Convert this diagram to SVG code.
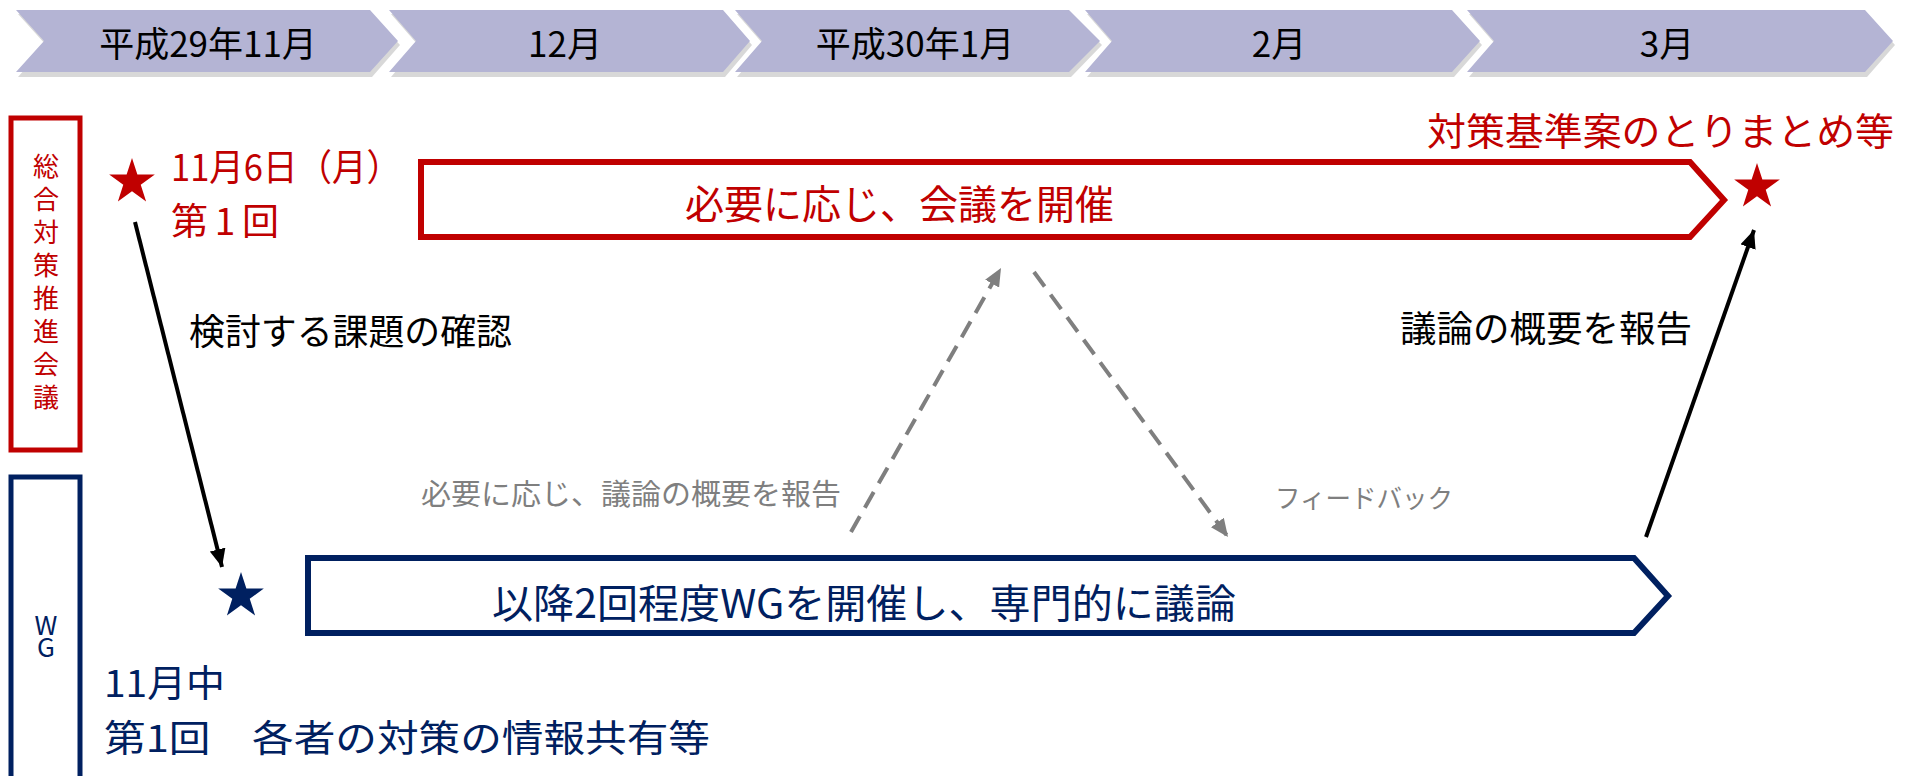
<svg xmlns="http://www.w3.org/2000/svg" width="1910" height="776" viewBox="0 0 1910 776">
<style>
text{font-family:"Noto Sans CJK JP","Noto Sans",sans-serif;dominant-baseline:central}
.hdr{fill:#b4b4d4}
.shd{fill:#d8d8d8}
.ht{font-size:35px;fill:#000;text-anchor:middle}
.red{fill:#c00000}
.navy{fill:#002060}
.blk{fill:#000}
.gry{fill:#7f7f7f}
.side{fill:none;stroke-width:5}
.vt{writing-mode:vertical-rl;text-orientation:upright;text-anchor:middle;font-size:26px}
</style>
<defs>
<polygon id="star" points="0,-24 5.39,-7.42 22.83,-7.42 8.72,2.83 14.11,19.42 0,9.17 -14.11,19.42 -8.72,2.83 -22.83,-7.42 -5.39,-7.42"/>
<marker id="ab" markerUnits="userSpaceOnUse" markerWidth="20" markerHeight="16" refX="18" refY="8" orient="auto"><path d="M0,0 L18,8 L0,16 Z" fill="#000"/></marker>
<marker id="ag" markerUnits="userSpaceOnUse" markerWidth="20" markerHeight="16" refX="18" refY="8" orient="auto"><path d="M0,0 L18,8 L0,16 Z" fill="#7f7f7f"/></marker>
</defs>

<g id="timeline">
<g id="m1"><polygon class="shd" points="18,14 372,14 400,45 372,77 18,77 46,45"/><polygon class="hdr" points="16,10 370,10 398,41 370,72 16,72 44,41"/><text class="ht" x="208" y="41">平成29年11月</text></g>
<g id="m2"><polygon class="shd" points="391,14 725,14 752,45 725,77 391,77 418,45"/><polygon class="hdr" points="389,10 723,10 750,41 723,72 389,72 416,41"/><text class="ht" x="565" y="41">12月</text></g>
<g id="m3"><polygon class="shd" points="737,14 1071,14 1102,45 1071,77 737,77 764,45"/><polygon class="hdr" points="735,10 1069,10 1100,41 1069,72 735,72 762,41"/><text class="ht" x="915" y="41">平成30年1月</text></g>
<g id="m4"><polygon class="shd" points="1087,14 1454,14 1482,45 1454,77 1087,77 1114,45"/><polygon class="hdr" points="1085,10 1452,10 1480,41 1452,72 1085,72 1112,41"/><text class="ht" x="1279" y="41">2月</text></g>
<g id="m5"><polygon class="shd" points="1469,14 1867,14 1895,45 1867,77 1469,77 1496,45"/><polygon class="hdr" points="1467,10 1865,10 1893,41 1865,72 1467,72 1494,41"/><text class="ht" x="1667" y="41">3月</text></g>
</g>

<g id="lane-council">
<rect class="side" x="11" y="118" width="69" height="332" stroke="#c00000"/>
<text class="red vt" x="46" y="285" style="letter-spacing:7px">総合対策推進会議</text>
</g>

<g id="lane-wg">
<rect class="side" x="11" y="477" width="69" height="310" stroke="#002060"/>
<text class="navy vt" x="46" y="634" style="letter-spacing:-4px">WG</text>
</g>

<g id="council-first">
<use href="#star" class="red" transform="translate(132,182)"/>
<text class="red" x="171" y="165" font-size="37" textLength="230" lengthAdjust="spacingAndGlyphs">11月6日（月）</text>
<text class="red" x="171" y="219" font-size="37" textLength="108" lengthAdjust="spacing">第1回</text>
</g>

<g id="council-meetings">
<polygon points="421,162 1690,162 1724,200 1690,237 421,237" fill="none" stroke="#c00000" stroke-width="6" stroke-linejoin="miter"/>
<text class="red" x="685" y="202" font-size="40" textLength="429" lengthAdjust="spacingAndGlyphs">必要に応じ、会議を開催</text>
</g>

<g id="council-final">
<text class="red" x="1427" y="128" font-size="38" textLength="467" lengthAdjust="spacingAndGlyphs">対策基準案のとりまとめ等</text>
<use href="#star" class="red" transform="translate(1757,187)"/>
</g>

<g id="wg-first">
<use href="#star" class="navy" transform="translate(241,596)"/>
<text class="navy" x="104" y="681" font-size="37" textLength="121" lengthAdjust="spacingAndGlyphs">11月中</text>
<text class="navy" x="104" y="736" font-size="37" textLength="606" lengthAdjust="spacingAndGlyphs">第1回　各者の対策の情報共有等</text>
</g>

<g id="wg-meetings">
<polygon points="308,558 1634,558 1668,596 1634,633 308,633" fill="none" stroke="#002060" stroke-width="6"/>
<text class="navy" x="492" y="601" font-size="40" textLength="744" lengthAdjust="spacingAndGlyphs">以降2回程度WGを開催し、専門的に議論</text>
</g>

<g id="connectors">
<line x1="135" y1="222" x2="222" y2="567" stroke="#000" stroke-width="4" marker-end="url(#ab)"/>
<line x1="1646" y1="537" x2="1754" y2="230" stroke="#000" stroke-width="4" marker-end="url(#ab)"/>
<line x1="851" y1="532" x2="1001" y2="268" stroke="#7f7f7f" stroke-width="4" stroke-dasharray="18,10" marker-end="url(#ag)"/>
<line x1="1034" y1="272" x2="1228" y2="537" stroke="#7f7f7f" stroke-width="4" stroke-dasharray="18,10" marker-end="url(#ag)"/>
</g>

<g id="labels">
<text class="blk" x="189" y="329" font-size="36" textLength="323" lengthAdjust="spacingAndGlyphs">検討する課題の確認</text>
<text class="blk" x="1400" y="326" font-size="36" textLength="292" lengthAdjust="spacingAndGlyphs">議論の概要を報告</text>
<text class="gry" x="421" y="492" font-size="29" textLength="420" lengthAdjust="spacingAndGlyphs">必要に応じ、議論の概要を報告</text>
<text class="gry" x="1275" y="496" font-size="26" textLength="178" lengthAdjust="spacingAndGlyphs">フィードバック</text>
</g>
</svg>
